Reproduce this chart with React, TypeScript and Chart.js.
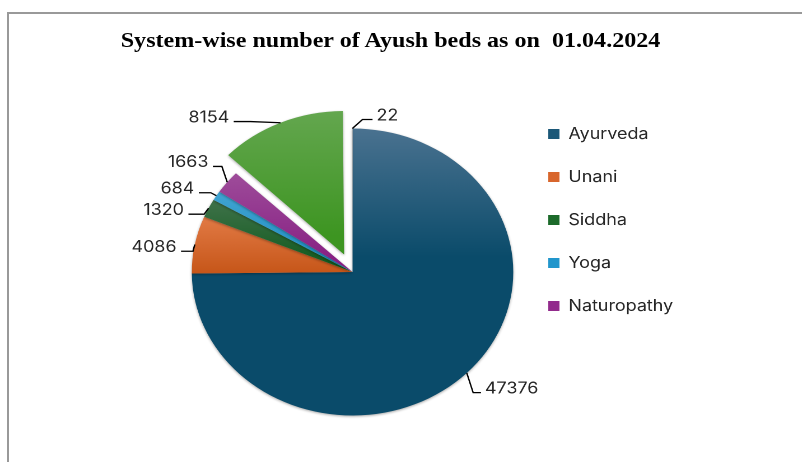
import React, { useEffect, useRef } from "react";
import { Chart, registerables } from "chart.js";

Chart.register(...registerables);

// ---------- data ----------
const systems = ["Ayurveda", "Unani", "Siddha", "Yoga", "Naturopathy", "Homoeopathy", "Sowa-Rigpa"];
const beds = [47376, 4086, 1320, 684, 1663, 8154, 22];
const titleText = "System-wise number of Ayush beds as on  01.04.2024";
const legendCount = 5;

// ---------- styles ----------
const sliceTopColors = ["#4a7290", "#e27a45", "#3f724a", "#41a4d2", "#9e4c9a", "#69a955", "#a0a0a0"];
const sliceBottomColors = ["#0a4b6a", "#c65619", "#0d5819", "#1a8bc1", "#841a80", "#3d9521", "#808080"];
const sliceGradEnd = [0.45, 1, 1, 1, 1, 1, 1];
const legendColors = ["#1b5878", "#d8662c", "#1c6a2a", "#2196cc", "#922b8c", "#4f9e36", "#909090"];
const sliceShift = [0, 0, 0, 0, 0, 19, 0]; // visible explode distance in px
// label leader geometry (elbow nudge from slice edge, horizontal tail length/side)
const labelElbows = [[5.7, 19.7], [-1.6, 6.7], [-4, 6], [-5, -3], [-4.8, -15.7], [-26.8, -1.2], [9, -9]];
const labelTails = [7, -10.7, -14, -10.7, -8, -15, 9];

const STRETCH = 1.12;
const CW = 716;
const CH = 462;
const RADIUS = 143.5;

function sliceYExtent(i: number, cx: number, cy: number, r: number) {
  const total = beds.reduce((a, b) => a + b, 0);
  let cum = 0;
  for (let k = 0; k < i; k++) cum += beds[k];
  const a0 = -Math.PI / 2 + (cum / total) * Math.PI * 2;
  const a1 = a0 + (beds[i] / total) * Math.PI * 2;
  const mid = (a0 + a1) / 2;
  const off = sliceShift[i];
  const ox = cx + Math.cos(mid) * off;
  const oy = cy + Math.sin(mid) * off;
  const ys = [oy, oy + Math.sin(a0) * r, oy + Math.sin(a1) * r];
  for (const a of [-Math.PI / 2, Math.PI / 2, (3 * Math.PI) / 2]) {
    if (a >= a0 && a <= a1) ys.push(oy + Math.sin(a) * r);
  }
  return [Math.min(...ys), Math.max(...ys)];
}

const shadowAndLabels = {
  id: "shadowAndLabels",
  beforeDatasetsDraw(chart: any) {
    const ctx = chart.ctx;
    const meta = chart.getDatasetMeta(0);
    const R = meta.controller.outerRadius;
    // keep exploded slices at the same radius as the rest (as in the original)
    meta.data.forEach((arc: any) => {
      const off = (arc.options.offset || 0) / 4;
      if (off) {
        const fix = 1 - Math.sin(Math.min(Math.PI, arc.circumference || 0));
        arc.outerRadius = R - off * fix;
      }
    });
    ctx.save();
    ctx.shadowColor = "rgba(0,0,0,0.35)";
    ctx.shadowBlur = 5;
    ctx.shadowOffsetX = 0;
    ctx.shadowOffsetY = 2;
  },
  afterDatasetsDraw(chart: any) {
    const ctx = chart.ctx;
    ctx.restore();
    const meta = chart.getDatasetMeta(0);
    const R = meta.controller.outerRadius;
    ctx.save();
    ctx.strokeStyle = "#000";
    ctx.lineWidth = 1.3;
    ctx.fillStyle = "#262626";
    ctx.font = "16px Inter, 'Noto Sans', sans-serif";
    ctx.textBaseline = "middle";
    meta.data.forEach((arc: any, i: number) => {
      const p = arc.getProps(["x", "y", "startAngle", "endAngle"], true);
      const mid = (p.startAngle + p.endAngle) / 2;
      const off = (arc.options.offset || 0) / 4;
      const ax = p.x + Math.cos(mid) * (R + off);
      const ay = p.y + Math.sin(mid) * (R + off);
      const ex = ax + labelElbows[i][0];
      const ey = ay + labelElbows[i][1];
      const tx = ex + labelTails[i];
      ctx.beginPath();
      ctx.moveTo(ax, ay);
      ctx.lineTo(ex, ey);
      ctx.lineTo(tx, ey);
      ctx.stroke();
      const right = labelTails[i] > 0;
      ctx.textAlign = right ? "left" : "right";
      ctx.fillText(String(beds[i]), right ? tx + 3.5 : tx - 4, ey - 4);
    });
    ctx.restore();
  },
};

export default function App() {
  const canvasRef = useRef<HTMLCanvasElement | null>(null);

  useEffect(() => {
    if (!canvasRef.current) return;
    const chart = new Chart(canvasRef.current, {
      type: "pie",
      data: {
        labels: systems,
        datasets: [
          {
            data: beds,
            borderWidth: 0,
            offset: sliceShift.map((v) => v * 4),
            backgroundColor: (c: any) => {
              const i = c.dataIndex;
              const area = c.chart.chartArea;
              if (i === undefined) return "#888";
              if (!area) return legendColors[i];
              const cx = (area.left + area.right) / 2;
              const cy = (area.top + area.bottom) / 2;
              const [y0, y1] = sliceYExtent(i, cx, cy, RADIUS);
              const g = c.chart.ctx.createLinearGradient(0, y0, 0, Math.max(y1, y0 + 1));
              g.addColorStop(0, sliceTopColors[i]);
              g.addColorStop(sliceGradEnd[i], sliceBottomColors[i]);
              g.addColorStop(1, sliceBottomColors[i]);
              return g;
            },
          } as any,
        ],
      },
      options: {
        responsive: false,
        animation: false,
        devicePixelRatio: 2,
        events: [],
        radius: RADIUS,
        layout: { padding: { top: 99, bottom: 17, left: 167, right: 105 } },
        plugins: {
          title: { display: false },
          tooltip: { enabled: false },
          legend: {
            display: true,
            position: "right",
            align: "start",
            labels: {
              boxWidth: 10,
              boxHeight: 10,
              padding: 27,
              color: "#262626",
              font: { family: "Inter, 'Noto Sans', sans-serif", size: 16 },
              generateLabels: () =>
                systems.slice(0, legendCount).map((t, i) => ({
                  text: t,
                  fillStyle: legendColors[i],
                  strokeStyle: legendColors[i],
                  lineWidth: 0,
                  hidden: false,
                  index: i,
                  fontColor: "#262626",
                })),
            },
          },
        },
      } as any,
      plugins: [shadowAndLabels],
    });
    return () => chart.destroy();
  }, []);

  return (
    <div
      style={{
        position: "fixed",
        left: 0,
        top: 0,
        width: 802,
        height: 462,
        overflow: "hidden",
        background: "#fff",
      }}
    >
      <div
        style={{
          position: "absolute",
          left: 7,
          top: 12,
          width: 900,
          height: 600,
          borderLeft: "2px solid #999",
          borderTop: "2px solid #999",
        }}
      />
      <div
        style={{
          position: "absolute",
          left: 0,
          top: 0,
          width: CW,
          height: CH,
          transform: `scaleX(${STRETCH})`,
          transformOrigin: "0 0",
        }}
      >
        <div
          style={{
            position: "absolute",
            left: 348.7 - 300,
            width: 600,
            top: 30,
            textAlign: "center",
            fontFamily: "'Liberation Serif', 'Times New Roman', serif",
            fontWeight: "bold",
            fontSize: 21.5,
            lineHeight: "21.5px",
            whiteSpace: "pre",
            color: "#000",
          }}
        >
          {titleText}
        </div>
        <canvas
          ref={canvasRef}
          width={CW}
          height={CH}
          style={{ position: "absolute", left: 0, top: 0, width: CW, height: CH, display: "block" }}
        />
      </div>
    </div>
  );
}
